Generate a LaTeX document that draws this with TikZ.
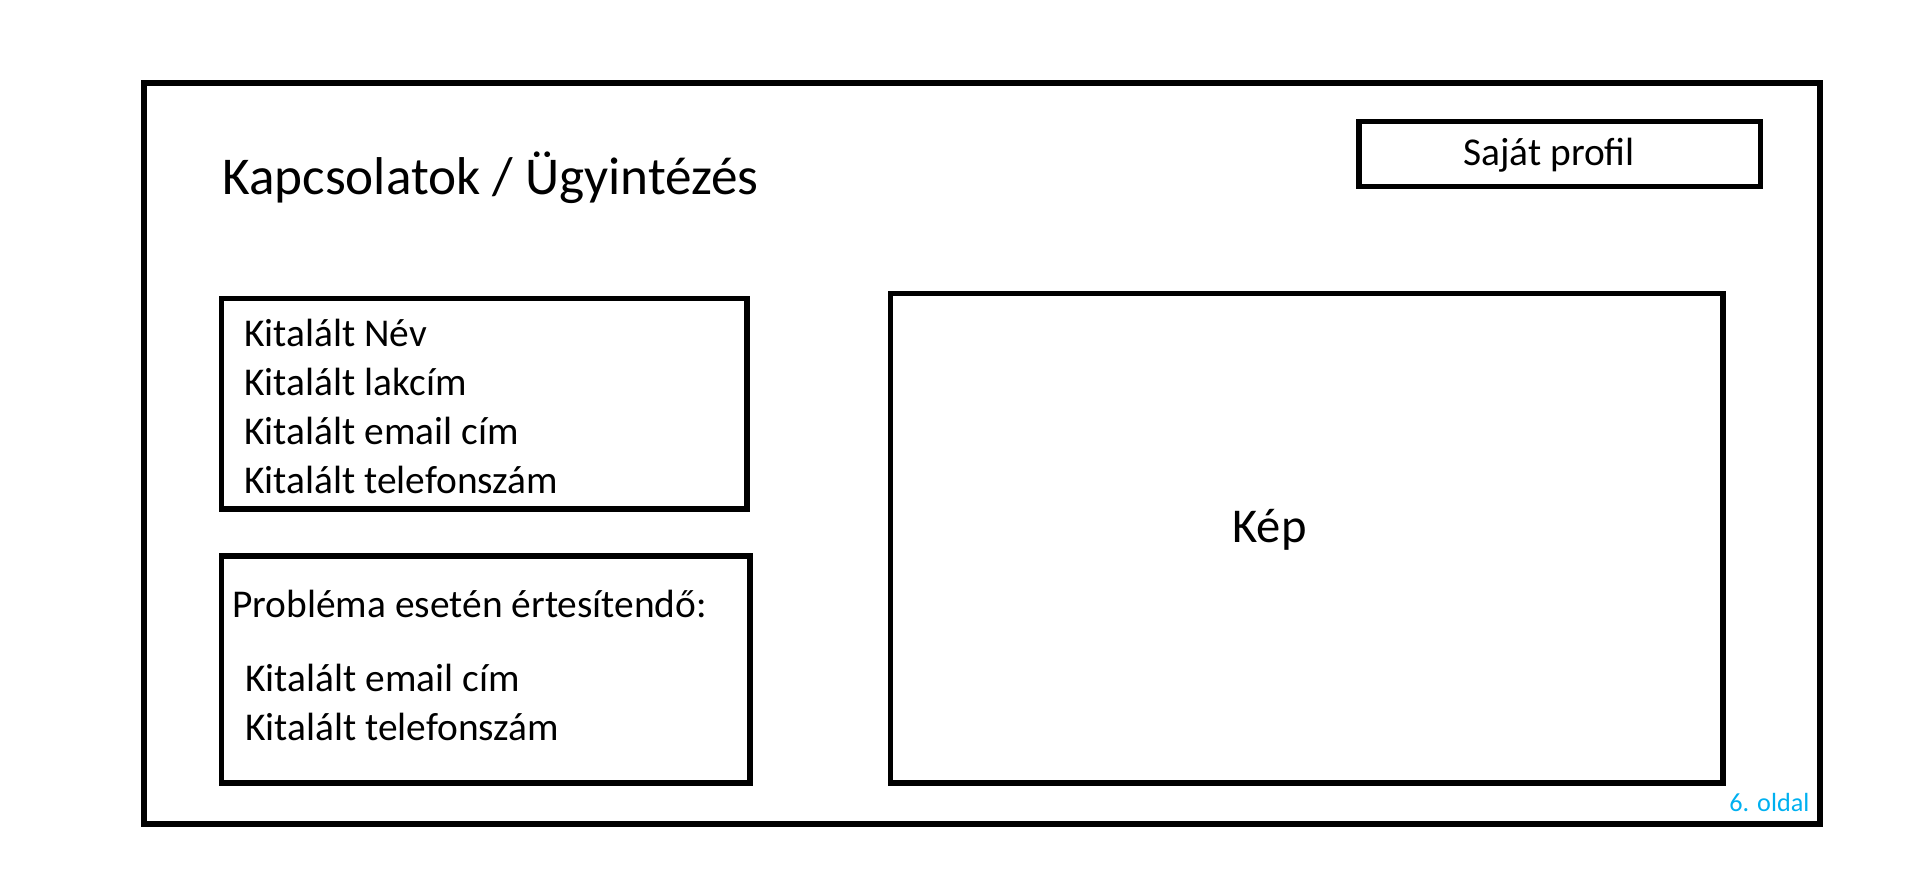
\documentclass[tikz,border=0pt]{standalone}
\usepackage{fontspec}
\setmainfont{Carlito}
\usepackage{xcolor}
\definecolor{oldalkek}{HTML}{00B0F0}

\begin{document}
\begin{tikzpicture}[x=0.5pt,y=-0.5pt,
        keret/.style={line width=2.7pt, black},
        szoveg/.style={inner sep=0pt, anchor=base west, font=\fontsize{19.7}{23}\selectfont}]
        \useasboundingbox (0,0) rectangle (1914,869);
        % keretek
         \draw[keret] (144,83) rectangle (1820,824);
         \draw[keret] (1359,121.5) rectangle (1760.5,186.5);
         \draw[keret] (221.5,298.5) rectangle (747,509);
         \draw[keret] (221.5,556) rectangle (750,783);
         \draw[keret] (890.5,293.5) rectangle (1723,783);
        % feliratok
         \node[szoveg, font=\fontsize{26.6}{31}\selectfont] (cim) at (222,194) {Kapcsolatok / Ügyintézés};
         \node[szoveg] (profil) at (1463,165) {Saját profil};
         \node[szoveg] (nev) at (244,346) {Kitalált Név};
         \node[szoveg] (lakcim) at (244,395) {Kitalált lakcím};
         \node[szoveg] (email) at (244,444) {Kitalált email cím};
         \node[szoveg] (telefon) at (244,493) {Kitalált telefonszám};
         \node[szoveg] (problema) at (232,617) {Probléma esetén értesítendő:};
         \node[szoveg] (email2) at (245,691) {Kitalált email cím};
         \node[szoveg] (telefon2) at (245,740) {Kitalált telefonszám};
         \node[szoveg, font=\fontsize{24.3}{29}\selectfont] (kep) at (1232,542) {Kép};
         \node[szoveg, font=\fontsize{13.1}{16}\selectfont, oldalkek] (oldal) at (1729,811) {6. oldal};
 \end{tikzpicture}
\end{document}
